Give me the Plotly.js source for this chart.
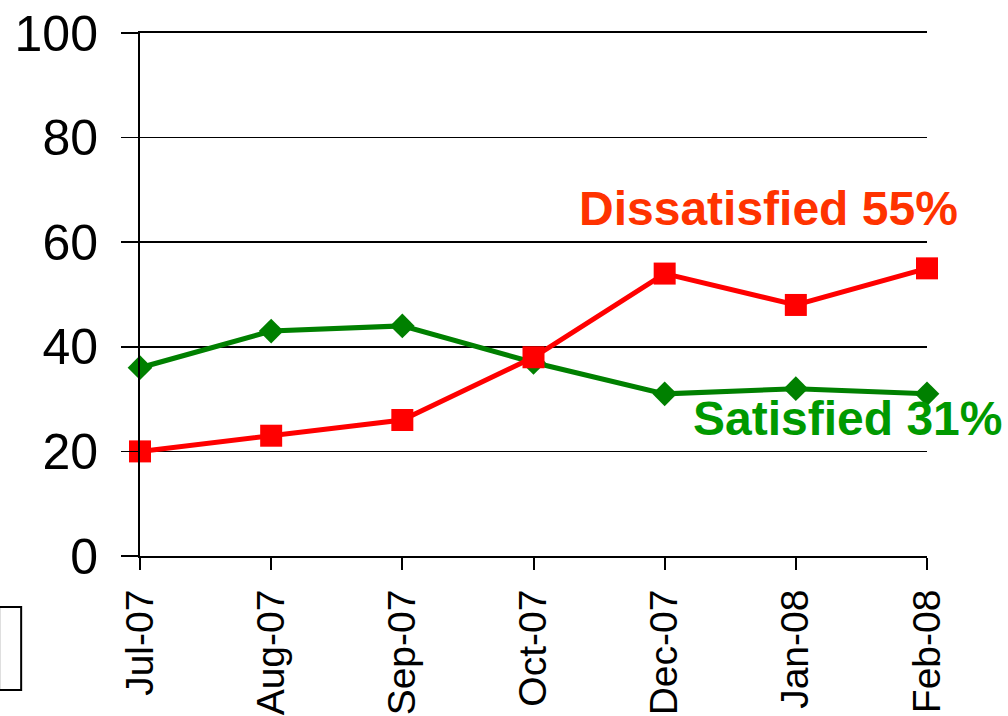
<!DOCTYPE html>
<html>
<head>
<meta charset="utf-8">
<script src="https://cdn.plot.ly/plotly-3.0.1.min.js"></script>
<style>html,body{margin:0;padding:0;background:#fff;}#chart{width:1008px;height:716px;}</style>
</head>
<body>
<div id="chart"></div>
<script>
const months = ["Jul-07","Aug-07","Sep-07","Oct-07","Dec-07","Jan-08","Feb-08"];
const satisfied = [36, 43, 44, 37, 31, 32, 31];
const dissatisfied = [20, 23, 26, 38, 54, 48, 55];
const yTicks = [0, 20, 40, 60, 80, 100];
const satLabel = "Satisfied";
const disLabel = "Dissatisfied";

const font = "Liberation Sans, Arial, sans-serif";
const last = months.length - 1;

const traces = [
  {x: months, y: satisfied, type: "scatter", mode: "lines+markers", name: satLabel, cliponaxis: false,
   line: {color: "#008000", width: 5}, marker: {symbol: "diamond", size: 19, color: "#008000"}},
  {x: months, y: dissatisfied, type: "scatter", mode: "lines+markers", name: disLabel, cliponaxis: false,
   line: {color: "#ff0000", width: 5}, marker: {symbol: "square", size: 22, color: "#ff0000"}}
];

const layout = {
  width: 1008, height: 716,
  margin: {l: 140, r: 81, t: 33, b: 160},
  paper_bgcolor: "#fff", plot_bgcolor: "#fff",
  showlegend: false,
  font: {family: font, color: "#000"},
  xaxis: {type: "category", categoryorder: "array", categoryarray: months,
    range: [0, last], showgrid: false, zeroline: false,
    showline: true, linecolor: "#000", linewidth: 2, mirror: true,
    ticks: "outside", ticklen: 12, tickwidth: 2, tickcolor: "#000",
    tickangle: -90, tickfont: {size: 39, family: font, color: "#000"},
    ticklabelstandoff: 4},
  yaxis: {range: [0, 100], tickvals: yTicks, ticktext: yTicks.map(String),
    showgrid: true, gridcolor: "#000", gridwidth: 1.5, zeroline: false,
    showline: true, linecolor: "#000", linewidth: 2,
    ticks: "outside", ticklen: 17, tickwidth: 1.5, tickcolor: "#000",
    tickfont: {size: 50, family: font, color: "#000"},
    ticklabelstandoff: 13},
  annotations: [
    {x: months[last], y: 66.5, xref: "x", yref: "y", showarrow: false,
     text: "<b>" + disLabel + " " + dissatisfied[last] + "%</b>", xanchor: "right", xshift: 33,
     font: {size: 48, family: font, color: "#ff3300"}},
    {x: months[last], y: 26.3, xref: "x", yref: "y", showarrow: false,
     text: "<b>" + satLabel + " " + satisfied[last] + "%</b>", xanchor: "right", xshift: 77,
     font: {size: 48, family: font, color: "#009900"}}
  ],
  shapes: [
    {type: "rect", xref: "paper", yref: "paper", x0: -0.179, x1: -0.151, y0: -0.256, y1: -0.0975,
     line: {color: "#000", width: 2}, fillcolor: "rgba(0,0,0,0)"}
  ]
};

Plotly.newPlot("chart", traces, layout, {displayModeBar: false, staticPlot: true});
</script>
</body>
</html>
